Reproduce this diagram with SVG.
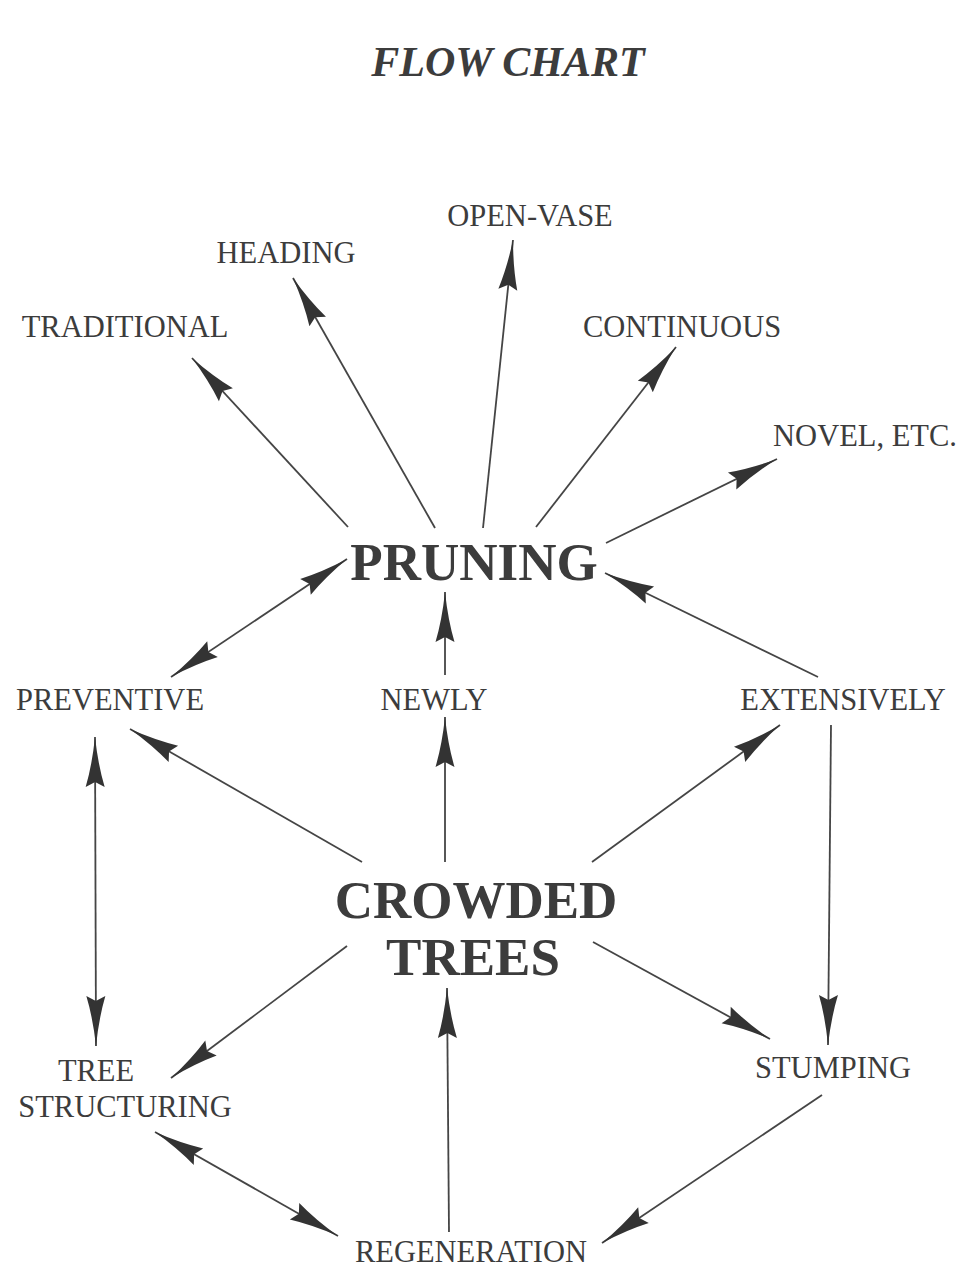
<svg xmlns="http://www.w3.org/2000/svg" width="963" height="1272" viewBox="0 0 963 1272">
<style>
.t{font-family:"Liberation Serif","Times New Roman",serif;fill:#3c3c3c;text-anchor:middle}
.lbl{font-size:30.5px}
.big{font-size:53px;font-weight:bold}
.title{font-size:42px;font-weight:bold;font-style:italic}
.c line{stroke:#454545;stroke-width:1.8;fill:none}
</style>
<defs>
<marker id="ah" viewBox="-52 -11 54 22" refX="0" refY="0" markerWidth="54" markerHeight="22" markerUnits="userSpaceOnUse" orient="auto-start-reverse">
<path d="M0,0 Q-28,-3 -50,-9.5 L-45,0 L-50,9.5 Q-28,3 0,0 Z" fill="#333"/>
</marker>
</defs>
<rect width="963" height="1272" fill="#fff"/>
<g id="title"><text class="t title" x="508" y="76">FLOW CHART</text></g>
<g id="n-openvase"><text class="t lbl" x="530" y="226">OPEN-VASE</text></g>
<g id="n-heading"><text class="t lbl" x="286" y="263">HEADING</text></g>
<g id="n-traditional"><text class="t lbl" x="125" y="337">TRADITIONAL</text></g>
<g id="n-continuous"><text class="t lbl" x="682" y="337">CONTINUOUS</text></g>
<g id="n-novel"><text class="t lbl" x="865" y="446">NOVEL, ETC.</text></g>
<g id="n-pruning"><text class="t big" x="474" y="580">PRUNING</text></g>
<g id="n-preventive"><text class="t lbl" x="110" y="710">PREVENTIVE</text></g>
<g id="n-newly"><text class="t lbl" x="434" y="710">NEWLY</text></g>
<g id="n-extensively"><text class="t lbl" x="843" y="710">EXTENSIVELY</text></g>
<g id="n-crowded"><text class="t big" x="476" y="918">CROWDED</text><text class="t big" x="473" y="975">TREES</text></g>
<g id="n-treestructuring"><text class="t lbl" x="96" y="1081">TREE</text><text class="t lbl" x="125" y="1117">STRUCTURING</text></g>
<g id="n-stumping"><text class="t lbl" x="833" y="1078">STUMPING</text></g>
<g id="n-regeneration"><text class="t lbl" x="471" y="1262">REGENERATION</text></g>
<g id="connectors" class="c">
<line x1="348" y1="527" x2="192" y2="358" marker-end="url(#ah)"/>
<line x1="435" y1="528" x2="293" y2="278" marker-end="url(#ah)"/>
<line x1="483" y1="528" x2="513" y2="240" marker-end="url(#ah)"/>
<line x1="536" y1="527" x2="676" y2="347" marker-end="url(#ah)"/>
<line x1="606" y1="543" x2="777" y2="459" marker-end="url(#ah)"/>
<line x1="818" y1="677" x2="605" y2="573" marker-end="url(#ah)"/>
<line x1="445" y1="675" x2="445" y2="592" marker-end="url(#ah)"/>
<line x1="171" y1="677" x2="347" y2="559" marker-start="url(#ah)" marker-end="url(#ah)"/>
<line x1="362" y1="862" x2="130" y2="729" marker-end="url(#ah)"/>
<line x1="445" y1="862" x2="445" y2="717" marker-end="url(#ah)"/>
<line x1="592" y1="862" x2="780" y2="725" marker-end="url(#ah)"/>
<line x1="831" y1="725" x2="828" y2="1045" marker-end="url(#ah)"/>
<line x1="95" y1="737" x2="96" y2="1046" marker-start="url(#ah)" marker-end="url(#ah)"/>
<line x1="347" y1="946" x2="171" y2="1078" marker-end="url(#ah)"/>
<line x1="593" y1="942" x2="770" y2="1039" marker-end="url(#ah)"/>
<line x1="449" y1="1232" x2="447" y2="988" marker-end="url(#ah)"/>
<line x1="155" y1="1132" x2="338" y2="1236" marker-start="url(#ah)" marker-end="url(#ah)"/>
<line x1="822" y1="1095" x2="602" y2="1243" marker-end="url(#ah)"/>
</g>
</svg>
